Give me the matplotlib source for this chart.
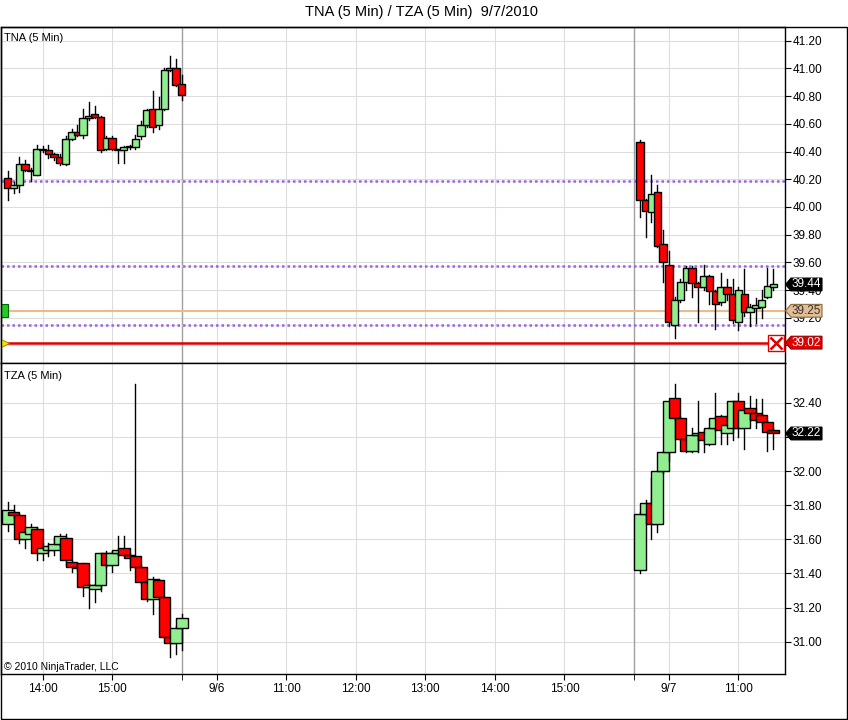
import numpy as np
import pandas as pd
import matplotlib
matplotlib.use("Agg")
import matplotlib.pyplot as plt
from matplotlib.patches import Rectangle, Polygon
from matplotlib.transforms import ScaledTranslation

plt.rcParams['font.family'] = ['Liberation Sans', 'DejaVu Sans']

# 5 min bars: (open, high, low, close)
tna_fri = [
    (40.21, 40.26, 40.05, 40.14), (40.14, 40.18, 40.10, 40.16), (40.16, 40.36, 40.11, 40.31),
    (40.31, 40.34, 40.26, 40.27), (40.27, 40.28, 40.19, 40.26), (40.23, 40.45, 40.23, 40.42),
    (40.42, 40.44, 40.40, 40.41), (40.41, 40.45, 40.35, 40.38), (40.38, 40.39, 40.34, 40.36),
    (40.36, 40.38, 40.30, 40.32), (40.31, 40.51, 40.30, 40.49), (40.49, 40.56, 40.48, 40.54),
    (40.54, 40.59, 40.51, 40.52), (40.52, 40.71, 40.50, 40.64), (40.64, 40.76, 40.63, 40.66),
    (40.67, 40.73, 40.64, 40.65), (40.65, 40.66, 40.40, 40.41), (40.42, 40.51, 40.41, 40.50),
    (40.50, 40.51, 40.41, 40.42), (40.42, 40.42, 40.32, 40.41), (40.41, 40.44, 40.32, 40.43),
    (40.43, 40.45, 40.42, 40.44), (40.43, 40.52, 40.42, 40.49), (40.51, 40.62, 40.49, 40.59),
    (40.59, 40.71, 40.58, 40.70), (40.71, 40.84, 40.54, 40.58), (40.59, 40.79, 40.56, 40.71),
    (40.71, 41.00, 40.70, 40.99), (40.99, 41.09, 40.98, 41.00), (41.00, 41.07, 40.87, 40.88),
    (40.89, 40.95, 40.77, 40.81),
]
tna_tue = [
    (40.47, 40.48, 39.93, 40.05), (40.05, 40.06, 39.78, 39.97), (39.96, 40.23, 39.89, 40.09),
    (40.11, 40.16, 39.71, 39.72), (39.73, 39.83, 39.46, 39.60), (39.58, 39.68, 39.14, 39.17),
    (39.15, 39.35, 39.05, 39.33), (39.33, 39.48, 39.31, 39.46), (39.46, 39.57, 39.40, 39.56),
    (39.56, 39.57, 39.35, 39.45), (39.45, 39.46, 39.17, 39.42), (39.42, 39.58, 39.40, 39.50),
    (39.50, 39.51, 39.30, 39.39), (39.39, 39.40, 39.12, 39.30), (39.31, 39.52, 39.29, 39.42),
    (39.42, 39.48, 39.33, 39.37), (39.37, 39.48, 39.16, 39.18), (39.17, 39.42, 39.11, 39.40),
    (39.37, 39.55, 39.21, 39.24), (39.24, 39.30, 39.14, 39.28), (39.27, 39.34, 39.16, 39.29),
    (39.28, 39.40, 39.20, 39.33), (39.35, 39.56, 39.34, 39.43), (39.42, 39.55, 39.40, 39.44),
]
tza_fri = [
    (31.69, 31.82, 31.65, 31.77), (31.76, 31.80, 31.73, 31.74), (31.74, 31.75, 31.58, 31.60),
    (31.60, 31.66, 31.55, 31.64), (31.63, 31.69, 31.62, 31.67), (31.66, 31.67, 31.48, 31.52),
    (31.52, 31.58, 31.48, 31.55), (31.54, 31.58, 31.50, 31.56), (31.54, 31.61, 31.51, 31.57),
    (31.57, 31.63, 31.56, 31.62), (31.61, 31.63, 31.45, 31.48), (31.47, 31.48, 31.41, 31.44),
    (31.43, 31.45, 31.42, 31.44), (31.46, 31.46, 31.27, 31.32), (31.32, 31.34, 31.20, 31.33),
    (31.31, 31.34, 31.23, 31.33), (31.33, 31.52, 31.30, 31.52), (31.52, 31.53, 31.44, 31.45),
    (31.45, 31.53, 31.41, 31.52), (31.52, 31.62, 31.51, 31.54), (31.55, 31.62, 31.50, 31.51),
    (31.51, 31.52, 31.42, 31.49), (31.50, 32.51, 31.43, 31.44), (31.44, 31.45, 31.34, 31.35),
    (31.35, 31.35, 31.24, 31.25), (31.25, 31.38, 31.16, 31.37), (31.36, 31.37, 31.25, 31.26),
    (31.26, 31.26, 31.02, 31.03), (31.03, 31.03, 30.91, 30.99), (30.99, 31.09, 30.93, 31.08),
    (31.08, 31.16, 30.95, 31.14),
]
tza_tue = [
    (31.42, 31.76, 31.40, 31.75), (31.75, 31.83, 31.74, 31.81), (31.81, 31.96, 31.60, 31.69),
    (31.69, 32.00, 31.64, 32.00), (32.00, 32.12, 31.99, 32.11), (32.11, 32.41, 32.06, 32.41),
    (32.43, 32.51, 32.30, 32.31), (32.31, 32.32, 32.18, 32.19), (32.19, 32.20, 32.11, 32.12),
    (32.12, 32.25, 32.11, 32.21), (32.21, 32.41, 32.11, 32.22), (32.23, 32.24, 32.11, 32.18),
    (32.16, 32.26, 32.15, 32.25), (32.25, 32.46, 32.24, 32.31), (32.32, 32.33, 32.16, 32.24),
    (32.22, 32.28, 32.16, 32.27), (32.25, 32.41, 32.18, 32.41), (32.41, 32.46, 32.20, 32.25),
    (32.25, 32.37, 32.13, 32.36), (32.37, 32.44, 32.30, 32.34), (32.34, 32.42, 32.25, 32.30),
    (32.33, 32.42, 32.27, 32.29), (32.29, 32.30, 32.12, 32.23), (32.24, 32.25, 32.13, 32.22),
]

fri_times = pd.date_range("2010-09-03 13:30", "2010-09-03 16:00", freq="5min")
tue_times = pd.date_range("2010-09-07 09:35", "2010-09-07 11:30", freq="5min")

tna_levels = [40.19, 39.57, 39.15]
tna_last = 39.44
tza_last = 32.22
entry_price = 39.25
stop_price = 39.02

tick_times = ["2010-09-03 14:00", "2010-09-03 15:00", "2010-09-06 10:00", "2010-09-06 11:00",
              "2010-09-06 12:00", "2010-09-06 13:00", "2010-09-06 14:00", "2010-09-06 15:00",
              "2010-09-07 10:00", "2010-09-07 11:00"]
tick_labels = ["14:00", "15:00", "9/6", "11:00", "12:00", "13:00", "14:00", "15:00", "9/7", "11:00"]
session_breaks = ["2010-09-03 16:00", "2010-09-06 16:00"]

tna_ticks = [39.00, 39.20, 39.40, 39.60, 39.80, 40.00, 40.20, 40.40, 40.60, 40.80, 41.00, 41.20]
tza_ticks = [31.00, 31.20, 31.40, 31.60, 31.80, 32.00, 32.20, 32.40]
# labels fully covered by the price tags
hidden_labels = [39.00, 32.20]

# sessions glued together, minutes; Mon 9:30 = 0
day_offset = {"2010-09-03": -390, "2010-09-06": 0, "2010-09-07": 390}


def pos(ts):
    ts = pd.Timestamp(ts)
    start = ts.normalize() + pd.Timedelta(hours=9, minutes=30)
    return day_offset[ts.strftime("%Y-%m-%d")] + (ts - start).total_seconds() / 60.0


def candles(ax, times, bars, width, last_dark=False):
    for i, (t, (o, h, l, c)) in enumerate(zip(times, bars)):
        x = pos(t)
        ax.plot([x, x], [l, h], color="black", lw=1, zorder=3)
        col = "#90EE90" if c >= o else "#FF0000"
        if last_dark and i == len(bars) - 1:
            col = "#C00000"
        lo = min(o, c)
        hgt = max(abs(c - o), 0.004)
        ax.add_patch(Rectangle((x - width / 2, lo), width, hgt, facecolor=col,
                               edgecolor="black", lw=1, zorder=3))


def tag(ax, price, face, txtcol, edge):
    tr = fig.dpi_scale_trans + ScaledTranslation(1.0, price, ax.get_yaxis_transform())
    verts = [(0.005, 0), (0.06, 0.064), (0.37, 0.064), (0.37, -0.064), (0.06, -0.064)]
    ax.add_patch(Polygon(verts, closed=True, transform=tr, facecolor=face, edgecolor=edge,
                         lw=0.8, clip_on=False, zorder=6))
    ax.text(0.215, 0, "%.2f" % price, transform=tr, ha="center", va="center",
            fontsize=8.5, color=txtcol, zorder=7, clip_on=False)


fig = plt.figure(figsize=(8.48, 7.2), dpi=100)
ax1 = fig.add_axes([1 / 848, 1 - 363 / 720, 784 / 848, 336 / 720])
ax2 = fig.add_axes([1 / 848, 1 - 674 / 720, 784 / 848, 311 / 720], sharex=ax1)

xmin, xmax = -155.8, 520.1
ax1.set_xlim(xmin, xmax)
ax1.set_ylim(38.873, 41.299)
ax2.set_ylim(30.811, 32.633)

for ax, ticks in ((ax1, tna_ticks), (ax2, tza_ticks)):
    ax.yaxis.tick_right()
    ax.set_yticks(ticks)
    ax.set_yticklabels(["" if v in hidden_labels else "%.2f" % v for v in ticks])
    ax.set_xticks([pos(t) for t in tick_times])
    ax.set_xticks([pos(t) for t in session_breaks], minor=True)
    ax.grid(True, which="major", color="#dddddd", lw=0.8, zorder=0)
    ax.tick_params(axis="y", length=4, pad=1.5, labelsize=8.5, colors="black")
    ax.tick_params(axis="x", which="both", length=4, pad=2.5, labelsize=8.5)
    for b in session_breaks:
        ax.axvline(pos(b), color="#a0a0a0", lw=1, zorder=1)
    for s in ax.spines.values():
        s.set_linewidth(1)
    ax.set_axisbelow(True)

ax1.tick_params(axis="x", which="both", length=0, labelbottom=False)
ax2.set_xticklabels(tick_labels)

# TNA panel
for lv in tna_levels:
    ax1.axhline(lv, color="#e6dcf5", lw=0.8, zorder=1)
    ax1.axhline(lv, color="#9966dd", lw=1.8, ls=(0, (1, 1.2)), zorder=2)
ax1.axhline(entry_price, color="#f0b98a", lw=1.5, zorder=2)
ax1.axhline(stop_price, color="#e00000", lw=1.8, zorder=2)
candles(ax1, fri_times, tna_fri, 6.5)
candles(ax1, tue_times, tna_tue, 6.5)

ax1.add_patch(Rectangle((0, entry_price - 0.047), 7 / 784, 0.094, transform=ax1.get_yaxis_transform(),
                        facecolor="#22cc22", edgecolor="#006600", lw=0.8, zorder=5))
ax1.plot([0], [stop_price], marker=">", ms=12, color="#f5e400", mec="#888800", mew=0.6,
         transform=ax1.get_yaxis_transform(), zorder=5)
ax1.plot([1 - 9 / 784], [stop_price], marker="s", ms=11, mfc="white", mec="#e00000", mew=1,
         transform=ax1.get_yaxis_transform(), zorder=6, clip_on=False)
ax1.plot([1 - 9 / 784], [stop_price], marker="x", ms=8, color="#e00000", mew=1.8,
         transform=ax1.get_yaxis_transform(), zorder=7, clip_on=False)

tag(ax1, tna_last, "black", "white", "black")
tag(ax1, entry_price, "#e3bd94", "#333333", "#8a6a40")
tag(ax1, stop_price, "#e00000", "white", "#900000")

# TZA panel
candles(ax2, fri_times, tza_fri, 10)
candles(ax2, tue_times, tza_tue, 10, last_dark=True)
tag(ax2, tza_last, "black", "white", "black")

ax1.text(0.004, 0.982, "TNA (5 Min)", transform=ax1.transAxes, ha="left", va="top", fontsize=8)
ax2.text(0.004, 0.975, "TZA (5 Min)", transform=ax2.transAxes, ha="left", va="top", fontsize=8)
ax2.text(0.004, 0.008, "\u00a9 2010 NinjaTrader, LLC", transform=ax2.transAxes, ha="left",
         va="bottom", fontsize=7.5)

fig.text(0.497, 1 - 12 / 720, "TNA (5 Min) / TZA (5 Min)  9/7/2010", ha="center", va="center",
         fontsize=10.5)
fig.patches.append(Rectangle((0.5 / 848, 1 - 719 / 720), 846.5 / 848, 692 / 720,
                             transform=fig.transFigure, fill=False, edgecolor="black", lw=1))

fig.savefig("out.png", dpi=100)
